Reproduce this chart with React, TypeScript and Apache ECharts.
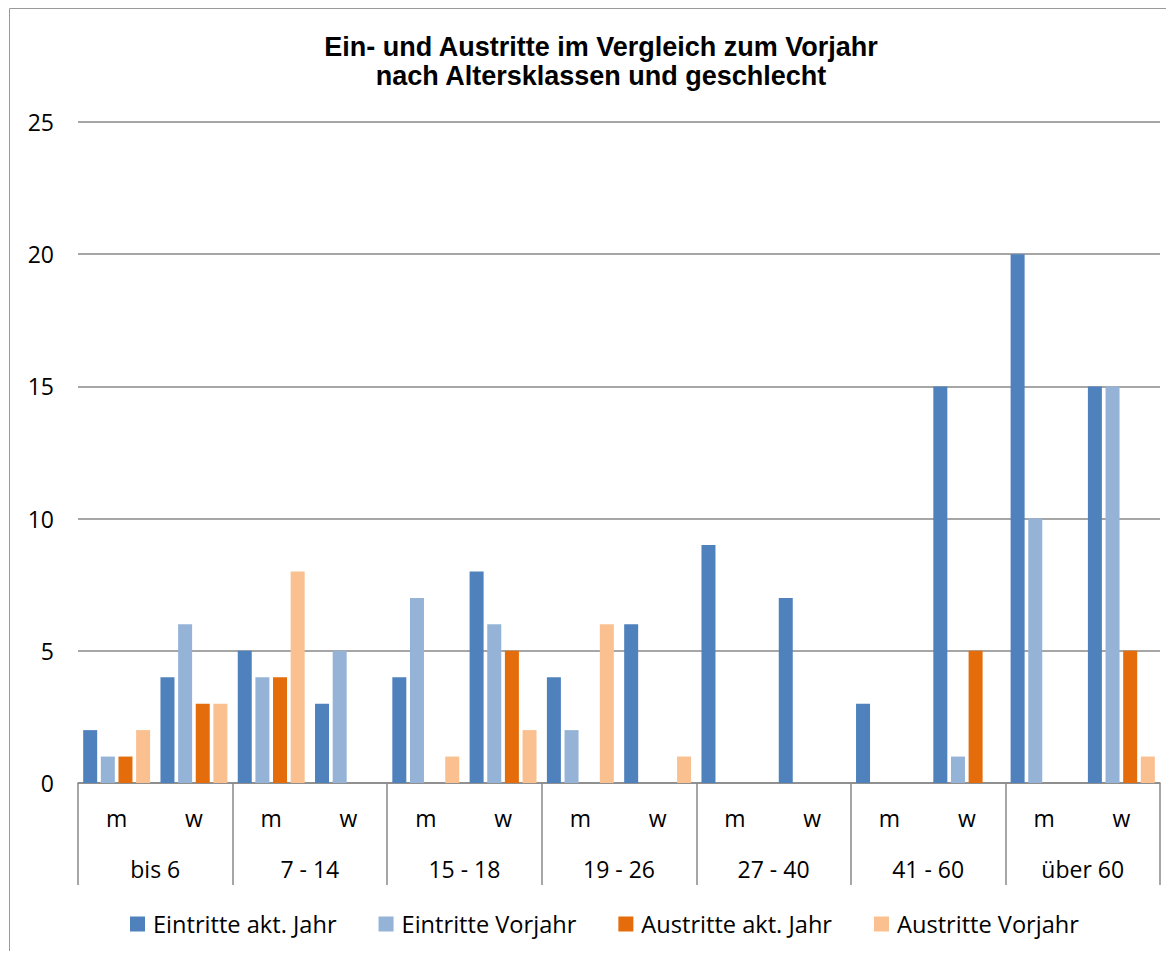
import React, { useEffect, useRef } from "react";
import * as echarts from "echarts";

const ageGroups = ["bis 6", "7 - 14", "15 - 18", "19 - 26", "27 - 40", "41 - 60", "über 60"];
const sexLabels = ["m", "w", "m", "w", "m", "w", "m", "w", "m", "w", "m", "w", "m", "w"];

const seriesNames = ["Eintritte akt. Jahr", "Eintritte Vorjahr", "Austritte akt. Jahr", "Austritte Vorjahr"];
const eintritteAkt = [2, 4, 5, 3, 4, 8, 4, 6, 9, 7, 3, 15, 20, 15];
const eintritteVorjahr = [1, 6, 4, 5, 7, 6, 2, 0, 0, 0, 0, 1, 10, 15];
const austritteAkt = [1, 3, 4, 0, 0, 5, 0, 0, 0, 0, 0, 5, 0, 5];
const austritteVorjahr = [2, 3, 8, 0, 1, 2, 6, 1, 0, 0, 0, 0, 0, 1];
const colors = ["#4F81BD", "#95B3D7", "#E46C0A", "#FAC090"];

const yTicks = { min: 0, max: 25, interval: 5 };

const FONT = "'Open Sans', sans-serif";

export default function App() {
  const ref = useRef<HTMLDivElement>(null);
  useEffect(() => {
    if (!ref.current) return;
    const chart = echarts.init(ref.current, undefined, { renderer: "svg" });
    const values = [eintritteAkt, eintritteVorjahr, austritteAkt, austritteVorjahr];
    chart.setOption({
      animation: false,
      backgroundColor: "#fff",
      title: {
        text: "Ein- und Austritte im Vergleich zum Vorjahr\nnach Altersklassen und geschlecht",
        left: 593,
        top: 24.5,
        padding: 0,
        textAlign: "center",
        textStyle: {
          fontFamily: "'Liberation Sans', Arial, sans-serif",
          fontWeight: "bold",
          fontSize: 27,
          lineHeight: 29,
          color: "#000",
        },
      },
      graphic: [
        {
          type: "line",
          shape: { x1: 1.5, y1: 0.5, x2: 1.5, y2: 943 },
          style: { stroke: "#9a9a9a", lineWidth: 1 },
          silent: true,
        },
        {
          type: "line",
          shape: { x1: 1.5, y1: 0.5, x2: 1158, y2: 0.5 },
          style: { stroke: "#9a9a9a", lineWidth: 1 },
          silent: true,
        },
      ],
      legend: {
        left: 122,
        top: 904,
        padding: 0,
        itemGap: 42,
        itemWidth: 15,
        itemHeight: 15,
        icon: "rect",
        data: seriesNames,
        textStyle: { fontFamily: FONT, fontSize: 23.6, color: "#000", padding: [0, 0, 0, 3] },
      },
      grid: { left: 70, right: 6, top: 114, bottom: 168, containLabel: false },
      xAxis: [
        {
          type: "category",
          data: sexLabels,
          position: "bottom",
          axisLine: { show: true, lineStyle: { color: "#888", width: 1.5 } },
          axisTick: { show: false },
          axisLabel: { interval: 0, margin: 23, fontFamily: FONT, fontSize: 23, color: "#000" },
        },
        {
          type: "category",
          data: ageGroups,
          position: "bottom",
          axisLine: { show: false },
          axisTick: { show: true, length: 102, interval: 0, lineStyle: { color: "#888", width: 1.5 } },
          axisLabel: { interval: 0, margin: 74, fontFamily: FONT, fontSize: 23, color: "#000" },
        },
      ],
      yAxis: {
        type: "value",
        min: yTicks.min,
        max: yTicks.max,
        interval: yTicks.interval,
        axisLine: { show: false },
        axisTick: { show: false },
        splitLine: { lineStyle: { color: "#888", width: 1.5 } },
        axisLabel: { margin: 24, fontFamily: FONT, fontSize: 23, color: "#000" },
      },
      series: seriesNames.map((name, i) => ({
        name,
        type: "bar",
        xAxisIndex: 0,
        data: values[i],
        barWidth: 14,
        barGap: "26%",
        itemStyle: { color: colors[i] },
      })),
    });
    return () => chart.dispose();
  }, []);
  return <div ref={ref} style={{ width: 1158, height: 943 }} />;
}
